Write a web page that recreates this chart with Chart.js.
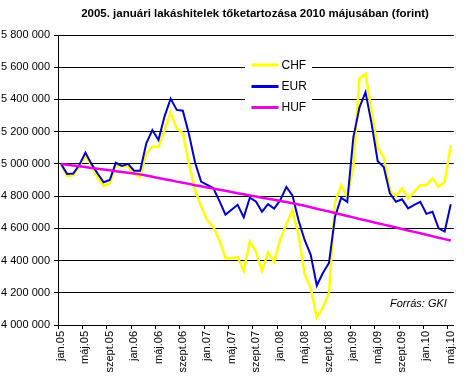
<!DOCTYPE html>
<html>
<head>
<meta charset="utf-8">
<script src="https://cdn.jsdelivr.net/npm/chart.js@4"></script>
<style>
html,body{margin:0;padding:0;background:#fff;}
#wrap{width:466px;height:381px;}
</style>
</head>
<body>
<div id="wrap"><canvas id="c" width="466" height="381"></canvas></div>
<script>
const titleText = '2005. januári lakáshitelek tőketartozása 2010 májusában (forint)';
const sourceText = 'Forrás: GKI';
const monthNames = ['jan','febr','márc','ápr','máj','jún','júl','aug','szept','okt','nov','dec'];
const years = ['05','06','07','08','09','10'];
const categories = [];
for (let y = 0; y < years.length; y++) {
  for (let m = 0; m < 12; m++) {
    if (y === 5 && m > 4) break;
    categories.push(monthNames[m] + '.' + years[y]);
  }
}
// values in thousand forints
const chfValues = [5000,4925,4930,4985,5055,4990,4915,4863,4880,4990,4985,4985,4937,4920,5066,5107,5107,5210,5318,5220,5190,5000,4840,4735,4650,4610,4528,4414,4414,4420,4335,4517,4455,4337,4450,4393,4530,4625,4710,4560,4315,4230,4045,4107,4200,4764,4867,4795,4980,5530,5558,5330,5100,5040,4835,4800,4848,4786,4826,4868,4868,4910,4858,4888,5115];
const eurValues = [5000,4937,4940,4993,5070,5000,4940,4886,4900,5007,4987,5000,4958,4958,5128,5210,5148,5295,5405,5335,5330,5185,5010,4890,4870,4850,4770,4685,4715,4746,4668,4790,4767,4703,4750,4723,4775,4857,4805,4650,4528,4436,4245,4323,4385,4672,4790,4764,5165,5350,5445,5250,5017,4980,4817,4765,4780,4724,4745,4765,4690,4703,4600,4580,4750];
const hufValues = [5000,4995,4990,4985,4980,4975,4970,4965,4960,4955,4950,4945,4940,4935,4928,4920,4912,4905,4898,4890,4883,4876,4868,4861,4854,4847,4840,4833,4826,4818,4811,4804,4797,4790,4784,4777,4770,4763,4756,4748,4740,4731,4722,4713,4704,4695,4686,4677,4668,4658,4650,4641,4632,4623,4614,4605,4596,4587,4578,4569,4560,4551,4542,4533,4524];
const yMin = 4000000, yMax = 5800000, yStep = 200000;

const seriesNames = ['CHF','EUR','HUF'];
const seriesColors = ['#FFFF00','#0000C8','#E600E6'];
const seriesWidths = [2.5,2,2.5];
const seriesValues = [chfValues, eurValues, hufValues];
const seriesOrder = [2,1,0];

const fmt = v => String(v).replace(/\B(?=(\d{3})+(?!\d))/g, ' ');
const FONT = "'Liberation Sans', Arial, sans-serif";

const extras = {
  id: 'extras',
  afterDatasetsDraw(chart) {
    const ctx = chart.ctx;
    ctx.save();
    // legend box
    ctx.fillStyle = '#fff';
    ctx.fillRect(245, 50, 67, 72);
    const rows = [65, 86.5, 107.5];
    chart.data.datasets.forEach((ds, i) => {
      ctx.strokeStyle = ds.borderColor;
      ctx.lineWidth = 3;
      ctx.beginPath();
      ctx.moveTo(251.5, rows[i]);
      ctx.lineTo(278.5, rows[i]);
      ctx.stroke();
      ctx.fillStyle = '#000';
      ctx.font = '12px ' + FONT;
      ctx.textAlign = 'left';
      ctx.textBaseline = 'middle';
      ctx.fillText(ds.label, 281.5, rows[i] + 0.5);
    });
    // source
    ctx.font = 'italic 11px ' + FONT;
    ctx.fillStyle = '#000';
    ctx.textAlign = 'left';
    ctx.textBaseline = 'middle';
    ctx.fillText(sourceText, 390, 304);
    // title
    ctx.font = 'bold 11.5px ' + FONT;
    ctx.textAlign = 'center';
    ctx.fillText(titleText, 255, 14);
    ctx.restore();
  }
};

new Chart(document.getElementById('c'), {
  type: 'line',
  data: {
    labels: categories,
    datasets: seriesNames.map((n, i) => ({
      label: n,
      data: seriesValues[i].map(v => v * 1000),
      borderColor: seriesColors[i],
      backgroundColor: seriesColors[i],
      borderWidth: seriesWidths[i],
      pointRadius: 0,
      tension: 0,
      fill: false,
      order: seriesOrder[i]
    }))
  },
  options: {
    responsive: false,
    animation: false,
    devicePixelRatio: 1,
    layout: { padding: { top: 35, right: 5, left: 0, bottom: 0 } },
    plugins: {
      legend: { display: false },
      title: { display: false },
      tooltip: { enabled: false }
    },
    scales: {
      x: {
        offset: true,
        afterFit(s) { s.height = 56; },
        grid: {
          offset: true,
          drawOnChartArea: false,
          drawTicks: true,
          tickLength: 4,
          color: ctx => (ctx.index % 4 === 0 ? '#000' : 'rgba(0,0,0,0)'),
          lineWidth: 1
        },
        border: { display: true, color: '#000', width: 1 },
        ticks: {
          autoSkip: false,
          maxRotation: 90,
          minRotation: 90,
          padding: 2,
          color: '#000',
          font: { family: FONT, size: 11 },
          callback: function(v, i) { return i % 4 === 0 ? categories[i] : ''; }
        }
      },
      y: {
        min: yMin,
        max: yMax,
        afterFit(s) { s.width = 58; },
        grid: {
          color: '#000',
          lineWidth: 1,
          drawTicks: true,
          tickLength: 4
        },
        border: { display: true, color: '#000', width: 1 },
        ticks: {
          stepSize: yStep,
          padding: 4,
          color: '#000',
          font: { family: FONT, size: 11 },
          callback: v => fmt(v)
        }
      }
    }
  },
  plugins: [extras]
});
</script>
</body>
</html>
